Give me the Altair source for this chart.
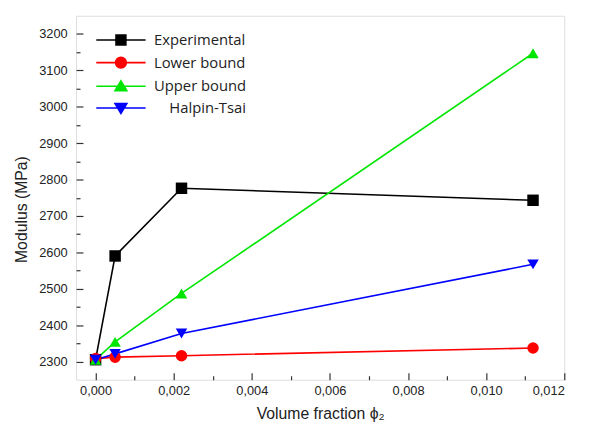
import altair as alt
import pandas as pd

# ---- data ----
x_vals = [0.0, 0.0005, 0.0022, 0.0112]
experimental = [2305, 2590, 2776, 2743]
lower_bound = [2308, 2312, 2316, 2337]
upper_bound = [2305, 2354, 2487, 3147]
halpin_tsai = [2305, 2321, 2377, 2567]

series_names = ["Experimental", "Lower bound", "Upper bound", "Halpin-Tsai"]
# legend texts as printed in the reference (last one is indented)
legend_labels = ["Experimental", "Lower bound", "Upper bound",
                 "\u200b\u00a0\u00a0\u00a0\u00a0Halpin-Tsai"]
series_values = [experimental, lower_bound, upper_bound, halpin_tsai]
colors = ["#000000", "#FF0000", "#00E600", "#0000FF"]
shapes = ["square", "circle", "triangle-up", "triangle-down"]
# legend symbols: a line segment with the marker in its middle
legend_paths = [
    "M-9,0H1M-5,-1H-3V1H-5Z",
    "M-9,0H1M-5.1,0A1.1,1.1 0 1,0 -2.9,0A1.1,1.1 0 1,0 -5.1,0Z",
    "M-9,0H1M-4,-1.1L-2.8,0.9H-5.2Z",
    "M-9,0H1M-5.2,-0.9H-2.8L-4,1.1Z",
]

x_major = [0.0, 0.002, 0.004, 0.006, 0.008, 0.010, 0.012]
x_minor = [0.001, 0.003, 0.005, 0.007, 0.009, 0.011]
y_major = [2300, 2400, 2500, 2600, 2700, 2800, 2900, 3000, 3100, 3200]
y_minor = [2350, 2450, 2550, 2650, 2750, 2850, 2950, 3050, 3150]
x_domain = [-0.0005, 0.012]
y_domain = [2250, 3250]

rows = []
for name, vals in zip(series_names, series_values):
    for xv, yv in zip(x_vals, vals):
        rows.append({"series": name, "x": xv, "y": yv})
df = pd.DataFrame(rows)

FONT = "Liberation Sans"
xs = alt.Scale(domain=x_domain, nice=False, zero=False)
ys = alt.Scale(domain=y_domain, nice=False, zero=False)
cs = alt.Scale(domain=series_names, range=colors)
order_enc = alt.Order("x:Q")

minor_x_axis = alt.Axis(values=x_minor, tickSize=4, offset=-4, labels=False, domain=False,
                        grid=False, title=None, orient="bottom", tickColor="#333", tickWidth=1.2)
minor_y_axis = alt.Axis(values=y_minor, tickSize=4, offset=-4, labels=False, domain=False,
                        grid=False, title=None, orient="left", tickColor="#333", tickWidth=1.2)

major_x_axis = alt.Axis(values=x_major, tickSize=7, offset=-7, labelPadding=5, domain=False,
                        grid=False, title="Volume fraction ϕ₂", orient="bottom",
                        labelExpr="replace(format(datum.value, '.3f'), '.', ',')",
                        labelFont=FONT, labelFontSize=13, labelColor="#222",
                        titleFont=FONT, titleFontSize=16, titleFontWeight="normal",
                        titleColor="#222", titlePadding=8, tickColor="#333", tickWidth=1.2)
major_y_axis = alt.Axis(values=y_major, tickSize=7, offset=-7, labelPadding=9, domain=False,
                        grid=False, title="Modulus (MPa)", orient="left", format="d",
                        labelFont=FONT, labelFontSize=13, labelColor="#222",
                        titleFont=FONT, titleFontSize=16, titleFontWeight="normal",
                        titleColor="#222", titlePadding=9, titleY=196, tickColor="#333", tickWidth=1.2)

lines = alt.Chart(df).mark_line(strokeWidth=1.6).encode(
    x=alt.X("x:Q", scale=xs, axis=minor_x_axis),
    y=alt.Y("y:Q", scale=ys, axis=minor_y_axis),
    color=alt.Color("series:N", scale=cs, legend=None),
    order=order_enc,
)

points = alt.Chart(df).mark_point(filled=True, size=135, opacity=1).encode(
    x=alt.X("x:Q", scale=xs, axis=major_x_axis),
    y=alt.Y("y:Q", scale=ys, axis=major_y_axis),
    color=alt.Color("series:N", scale=cs, legend=None),
    shape=alt.Shape("series:N", scale=alt.Scale(domain=series_names, range=shapes), legend=None),
)

legend_def = alt.Legend(
    title=None, orient="none", legendX=58, legendY=17,
    symbolSize=100, symbolStrokeWidth=1.6, labelOffset=6, rowPadding=5,
    labelFont="Open Sans", labelFontSize=15, labelColor="#222",
)

legend_layer = alt.Chart(df).transform_filter("false").mark_point(
    filled=False, size=100, opacity=1, strokeWidth=1.6
).encode(
    x=alt.X("x:Q", scale=xs, axis=None),
    y=alt.Y("y:Q", scale=ys, axis=None),
    color=alt.Color("series:N", scale=alt.Scale(domain=legend_labels, range=colors), legend=legend_def),
    fill=alt.Fill("series:N", scale=alt.Scale(domain=legend_labels, range=colors), legend=legend_def),
    shape=alt.Shape("series:N", scale=alt.Scale(domain=legend_labels, range=legend_paths), legend=legend_def),
)

chart = alt.layer(lines, points, legend_layer).resolve_scale(
    color="independent", fill="independent", shape="independent"
).resolve_axis(
    x="independent", y="independent"
).properties(
    width=495, height=369,
    autosize=alt.AutoSizeParams(type="none"),
    padding={"left": 69, "top": 5, "right": 20, "bottom": 40},
).configure_view(
    stroke="#333", strokeWidth=1.5
).configure(background="white")

chart.save("out.html", embed_options={"renderer": "svg", "actions": False})
